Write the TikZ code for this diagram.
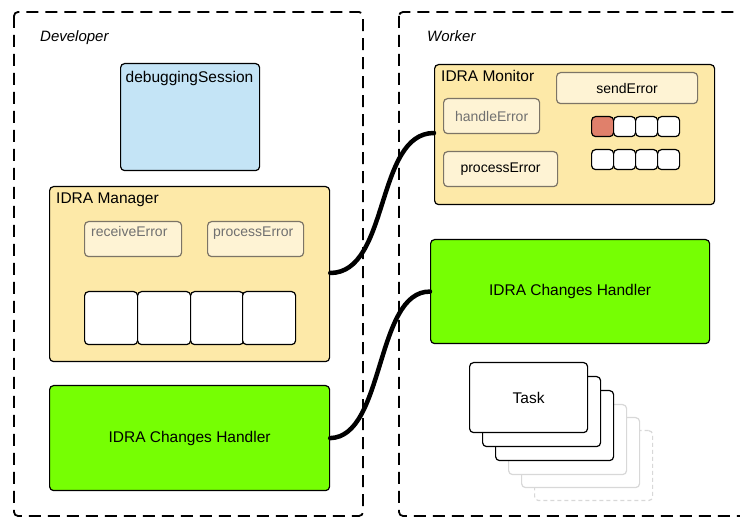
\documentclass[tikz,border=0pt]{standalone}
\usepackage{fontspec}
\setmainfont{Liberation Sans}
\definecolor{mgrfill}{HTML}{FDE9A8}
\definecolor{opfill}{HTML}{FEF3D4}
\definecolor{opline}{HTML}{7C7466}
\definecolor{optext}{HTML}{707070}
\definecolor{sessfill}{HTML}{C4E4F6}
\definecolor{chgfill}{HTML}{76FF03}
\definecolor{errfill}{HTML}{E0806B}
\definecolor{ghost}{HTML}{D8D8D8}
\begin{document}
\begin{tikzpicture}[x=1pt,y=-1pt,
  frame/.style={draw=black,line width=1.8pt,dash pattern=on 12pt off 7pt,rounded corners=4pt},
  zonelabel/.style={font=\fontsize{15}{18}\selectfont\itshape,anchor=base west,inner sep=0pt},
  box/.style={draw=black,line width=1.2pt,rounded corners=4pt,anchor=north west,inner sep=0pt},
  title/.style={font=\fontsize{15.5}{18}\selectfont,anchor=base west,inner sep=0pt},
  optitle/.style={font=\fontsize{14}{17}\selectfont,inner sep=0pt},
  opbox/.style={draw=opline,fill=opfill,line width=1.2pt,rounded corners=4pt,anchor=north west,inner sep=0pt},
  slot/.style={draw=black,fill=white,line width=1.2pt,rounded corners=4pt,anchor=north west,inner sep=0pt},
  card/.style={draw=black,fill=white,line width=1.2pt,rounded corners=4pt,anchor=north west,inner sep=0pt,
    minimum width=118pt,minimum height=70pt},
  ghostcard/.style={card,draw=ghost},
  wire/.style={line width=4.5pt,line cap=round}
]
\clip (0,0) rectangle (740,518);

% deployment zones
\draw[frame] (14,12) rectangle (363,516);
\draw[frame] (399,12) rectangle (770,516);
\node[zonelabel] (devlbl) at (40,42) {Developer};
\node[zonelabel] (wrklbl) at (427,42) {Worker};

% developer side
\node[box,fill=sessfill,minimum width=139pt,minimum height=107pt] (session) at (120,63) {};
\node[font=\fontsize{15.5}{18}\selectfont,anchor=base,inner sep=0pt] (sessionlbl) at (189.5,83) {debuggingSession};

\node[box,fill=mgrfill,minimum width=280pt,minimum height=175pt] (manager) at (49,186) {};
\node[title] (managerlbl) at (56,204) {IDRA Manager};
\node[opbox,minimum width=97pt,minimum height=35pt] (recv) at (84,221) {};
\node[optitle,text=optext,anchor=base west] (recvlbl) at (91,237) {receiveError};
\node[opbox,minimum width=96pt,minimum height=35pt] (mproc) at (207,221) {};
\node[optitle,text=optext,anchor=base west] (mproclbl) at (213,237) {processError};
\foreach \i/\x in {1/84,2/137,3/190,4/242}
  \node[slot,minimum width=53pt,minimum height=53pt] (mslot\i) at (\x,291) {};

\node[box,fill=chgfill,minimum width=280pt,minimum height=105pt,
  font=\fontsize{15.5}{18}\selectfont] (devchg) at (49,385) {IDRA Changes Handler};

% worker side
\node[box,fill=mgrfill,minimum width=280pt,minimum height=140pt] (monitor) at (434,64) {};
\node[title] (monitorlbl) at (441,82) {IDRA Monitor};
\node[opbox,minimum width=141pt,minimum height=31pt,optitle] (send) at (556,72) {sendError};
\node[opbox,minimum width=96pt,minimum height=35pt,optitle,text=optext] (handle) at (443,98) {handleError};
\node[opbox,minimum width=114pt,minimum height=35pt,optitle] (wproc) at (443,151) {processError};
\node[slot,fill=errfill,minimum width=22pt,minimum height=20pt] (qa1) at (591,116) {};
\foreach \i/\x in {2/613,3/635,4/657}
  \node[slot,minimum width=22pt,minimum height=20pt] (qa\i) at (\x,116) {};
\foreach \i/\x in {1/591,2/613,3/635,4/657}
  \node[slot,minimum width=22pt,minimum height=20pt] (qb\i) at (\x,149) {};

\node[box,fill=chgfill,minimum width=279pt,minimum height=104pt,
  font=\fontsize{15.5}{18}\selectfont] (wrkchg) at (430,239) {IDRA Changes Handler};

% stack of tasks, back to front
\node[ghostcard,dashed,dash pattern=on 4pt off 3pt] (task6) at (534,430) {};
\node[ghostcard] (task5) at (521,417) {};
\node[ghostcard] (task4) at (508,404) {};
\node[card] (task3) at (495,390) {};
\node[card] (task2) at (482,376) {};
\node[card,font=\fontsize{15.5}{18}\selectfont] (task1) at (469,362) {Task};

% links between the two sides
\draw[wire] (manager.east |- 0,273) .. controls (390,273) and (375,133) .. (monitor.west |- 0,133);
\draw[wire] (devchg.east) .. controls (385,437) and (375,291) .. (wrkchg.west);
\end{tikzpicture}
\end{document}
